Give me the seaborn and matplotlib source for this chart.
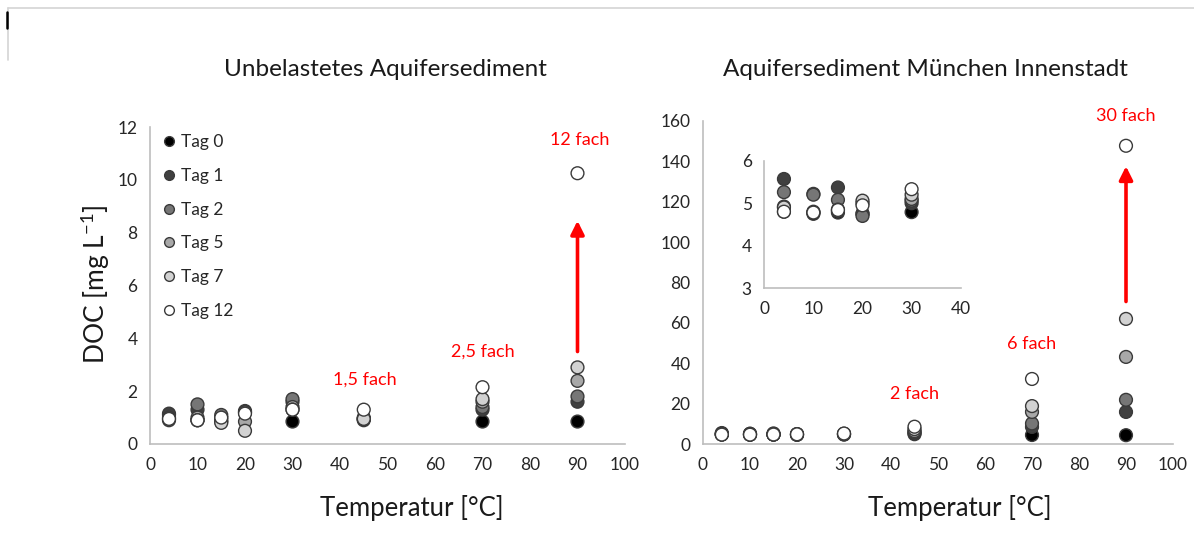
import numpy as np
import pandas as pd
import matplotlib
matplotlib.use("Agg")
import matplotlib.pyplot as plt
import seaborn as sns
from matplotlib.lines import Line2D

# ---------------- data ----------------
tags = ["Tag 0", "Tag 1", "Tag 2", "Tag 5", "Tag 7", "Tag 12"]
colors = ["#000000", "#404040", "#767676", "#a8a8a8", "#d2d2d2", "#ffffff"]
temps = [4, 10, 15, 20, 30, 45, 70, 90]

# Unbelastetes Aquifersediment (DOC mg/L)
left_tag0 = [1.10, 0.90, 0.85, 1.20, 0.85, 0.90, 0.85, 0.85]
left_tag1 = [1.15, 1.30, 1.00, 1.25, 1.60, 0.95, 1.30, 1.60]
left_tag2 = [1.00, 1.50, 1.10, 1.20, 1.70, 0.95, 1.40, 1.80]
left_tag5 = [0.90, 1.00, 0.90, 0.85, 1.40, 1.00, 1.60, 2.39]
left_tag7 = [0.95, 0.90, 0.80, 0.50, 1.30, 0.95, 1.70, 2.90]
left_tag12 = [0.95, 0.90, 1.00, 1.15, 1.30, 1.30, 2.15, 10.25]

# Aquifersediment München Innenstadt (DOC mg/L)
right_tag0 = [4.80, 4.75, 4.78, 4.75, 4.79, 5.0, 4.6, 4.5]
right_tag1 = [5.57, 5.22, 5.37, 4.76, 5.00, 5.5, 8.6, 16.0]
right_tag2 = [5.26, 5.20, 5.08, 4.70, 5.06, 6.0, 10.3, 22.0]
right_tag5 = [4.92, 4.80, 4.85, 5.00, 5.10, 6.5, 16.0, 43.2]
right_tag7 = [4.90, 4.78, 4.82, 5.06, 5.20, 7.5, 18.9, 62.0]
right_tag12 = [4.80, 4.78, 4.84, 4.95, 5.33, 8.7, 32.3, 147.6]
inset_temps = [4, 10, 15, 20, 30]

left_series = [left_tag0, left_tag1, left_tag2, left_tag5, left_tag7, left_tag12]
right_series = [right_tag0, right_tag1, right_tag2, right_tag5, right_tag7, right_tag12]

def long_df(series, xs):
    rows = []
    for tag, vals in zip(tags, series):
        for x, v in zip(xs, vals):
            rows.append({"Temperatur": x, "DOC": v, "Tag": tag})
    return pd.DataFrame(rows)

df_left = long_df(left_series, temps)
df_right = long_df(right_series, temps)
df_inset = long_df([s[:5] for s in right_series], inset_temps)

# ---------------- style ----------------
sns.set_theme(style="white")
plt.rcParams["font.family"] = ["Lato", "DejaVu Sans"]
TICKC = "#262626"
SPINEC = "#bdbdbd"
palette = dict(zip(tags, colors))

fig = plt.figure(figsize=(11.94, 5.46), dpi=100)
W, H = 1194, 546

def px_axes(x0, x1, ytop, ybot):
    return fig.add_axes([x0 / W, 1 - ybot / H, (x1 - x0) / W, (ybot - ytop) / H])

ax1 = px_axes(150, 625, 127, 444)
ax2 = px_axes(703, 1173, 120.7, 444.3)
ax3 = px_axes(764.3, 960.7, 160.7, 288.2)

def style(ax, fs=12.5):
    for s in ["top", "right"]:
        ax.spines[s].set_visible(False)
    for s in ["left", "bottom"]:
        ax.spines[s].set_color(SPINEC)
        ax.spines[s].set_linewidth(1.2)
    ax.tick_params(axis="both", which="major", direction="out", length=5,
                   width=1.1, color=SPINEC, labelsize=fs, labelcolor=TICKC, pad=4)
    ax.set_xlabel("")
    ax.set_ylabel("")
    ax.set_facecolor("none")

kw = dict(x="Temperatur", y="DOC", hue="Tag", hue_order=tags, palette=palette,
          s=85, edgecolor="#3a3a3a", linewidth=1.0, zorder=3, clip_on=False)

sns.scatterplot(data=df_left, ax=ax1, legend=True, **kw)
sns.scatterplot(data=df_right, ax=ax2, legend=False, **kw)
sns.scatterplot(data=df_inset, ax=ax3, legend=False, **kw)

# axes limits/ticks
ax1.set_xlim(0, 100); ax1.set_ylim(0, 12)
ax1.set_xticks(range(0, 101, 10)); ax1.set_yticks(range(0, 13, 2))
ax2.set_xlim(0, 100); ax2.set_ylim(0, 160)
ax2.set_xticks(range(0, 101, 10)); ax2.set_yticks(range(0, 161, 20))
ax3.set_xlim(0, 40); ax3.set_ylim(3, 6)
ax3.set_xticks(range(0, 41, 10)); ax3.set_yticks([3, 4, 5, 6])
for a in (ax1, ax2, ax3):
    style(a)
ax3.set_facecolor("white")

# legend
handles = [Line2D([0], [0], marker="o", linestyle="", markerfacecolor=c,
                  markeredgecolor="#3a3a3a", markeredgewidth=1.0, markersize=7)
           for c in colors]
if ax1.get_legend() is not None:
    ax1.get_legend().remove()
ax1.legend(handles, tags, loc="upper left", bbox_to_anchor=(0.025, 0.977),
           frameon=False, fontsize=12.5, handlelength=0.8, handletextpad=0.3,
           labelspacing=1.02, borderpad=0, borderaxespad=0,
           labelcolor=TICKC)

# red arrows and annotations
RED = "#ff0000"
arrow = dict(arrowstyle="-|>", color=RED, lw=2.6, mutation_scale=20,
             shrinkA=0, shrinkB=0)
ax1.annotate("", xy=(90, 8.45), xytext=(90, 3.5), arrowprops=arrow)
ax2.annotate("", xy=(90, 137.5), xytext=(90, 70.6), arrowprops=arrow)

tkw = dict(color=RED, fontsize=13, ha="center", va="center", clip_on=False)
ax1.text(90.5, 11.5, "12 fach", **tkw)
ax1.text(70, 3.48, "2,5 fach", **tkw)
ax1.text(45.3, 2.45, "1,5 fach", **tkw)
ax2.text(90, 162.5, "30 fach", **tkw)
ax2.text(70, 49.5, "6 fach", **tkw)
ax2.text(45, 25, "2 fach", **tkw)

# titles and axis labels
fig.text(385 / W, 1 - 70 / H, "Unbelastetes Aquifersediment",
         ha="center", va="center", fontsize=17.5, color="#1a1a1a")
fig.text(925 / W, 1 - 70 / H, "Aquifersediment München Innenstadt",
         ha="center", va="center", fontsize=17.5, color="#1a1a1a")
fig.text(412 / W, 1 - 508 / H, "Temperatur [°C]", ha="center", va="center",
         fontsize=18.5, color="#1a1a1a")
fig.text(960 / W, 1 - 508 / H, "Temperatur [°C]", ha="center", va="center",
         fontsize=18.5, color="#1a1a1a")
fig.text(95 / W, 1 - 284 / H, r"DOC [mg L$^{\mathregular{-1}}$]", ha="center",
         va="center", rotation=90, fontsize=19, color="#1a1a1a")

# thin frame remnants
fig.add_artist(Line2D([8 / W, 1], [1 - 8 / H, 1 - 8 / H], color="#d4d4d4", lw=1.2))
fig.add_artist(Line2D([8 / W, 8 / W], [1 - 8 / H, 1 - 60 / H], color="#d4d4d4", lw=1.2))
fig.add_artist(Line2D([7 / W, 7 / W], [1 - 12 / H, 1 - 28 / H], color="#000000", lw=1.8))

fig.savefig("out.png", dpi=100, facecolor="white")
